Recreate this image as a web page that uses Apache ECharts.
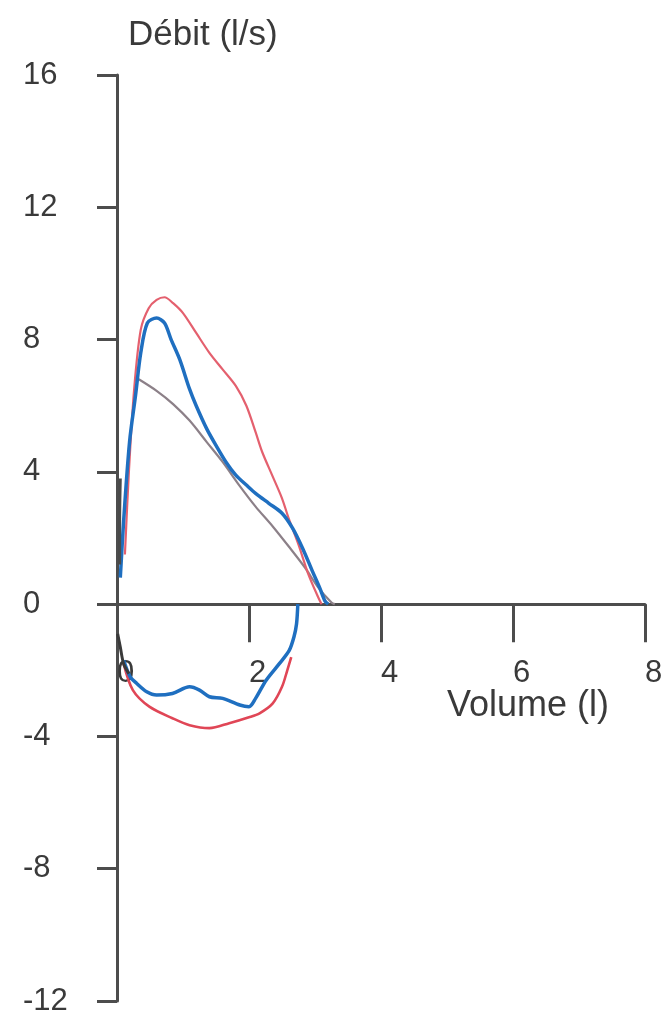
<!DOCTYPE html>
<html>
<head>
<meta charset="utf-8">
<script src="https://cdn.jsdelivr.net/npm/echarts@6/dist/echarts.min.js"></script>
<style>
html,body{margin:0;padding:0;background:#fff;}
#chart{width:666px;height:1017px;}
</style>
</head>
<body>
<div id="chart"></div>
<script>
// Tick values
const xTicks = [0, 2, 4, 6, 8];
const yTicks = [-12, -8, -4, 0, 4, 8, 12, 16];

// Curves: [volume (l), flow (l/s)]
const redExp = [[0.12,1.5],[0.18,4.0],[0.26,6.5],[0.36,8.3],[0.48,8.95],[0.6,9.2],[0.72,9.28],[0.85,9.1],[1.0,8.8],[1.2,8.2],[1.4,7.6],[1.6,7.1],[1.8,6.6],[1.96,6.0],[2.1,5.2],[2.2,4.6],[2.35,3.9],[2.5,3.2],[2.6,2.6],[2.75,1.8],[2.9,0.9],[3.05,0.2],[3.1,0]];
const redInsp = [[0.1,-1.8],[0.24,-2.6],[0.49,-3.1],[0.84,-3.45],[1.1,-3.66],[1.4,-3.75],[1.7,-3.6],[2.0,-3.42],[2.16,-3.3],[2.36,-3.0],[2.5,-2.5],[2.58,-2.0],[2.64,-1.6]];
const blueExp = [[0.05,0.8],[0.1,2.5],[0.19,4.9],[0.28,6.3],[0.36,7.6],[0.46,8.5],[0.6,8.65],[0.72,8.5],[0.82,8.0],[0.95,7.4],[1.1,6.5],[1.2,6.0],[1.36,5.3],[1.5,4.8],[1.65,4.3],[1.8,3.9],[1.96,3.6],[2.1,3.35],[2.3,3.05],[2.5,2.75],[2.66,2.3],[2.81,1.7],[2.96,1.0],[3.07,0.5],[3.15,0.1],[3.2,0]];
const blueInsp = [[0.1,-1.7],[0.2,-2.2],[0.3,-2.4],[0.45,-2.65],[0.6,-2.75],[0.84,-2.7],[1.1,-2.5],[1.25,-2.6],[1.4,-2.8],[1.6,-2.85],[1.86,-3.05],[2.0,-3.1],[2.1,-2.85],[2.26,-2.3],[2.46,-1.8],[2.61,-1.4],[2.68,-1.0],[2.72,-0.6],[2.74,0]];
const grayPred = [[0.33,6.8],[0.6,6.45],[0.85,6.05],[1.1,5.55],[1.36,4.9],[1.6,4.3],[1.85,3.6],[2.1,2.95],[2.36,2.35],[2.6,1.75],[2.85,1.1],[3.05,0.5],[3.25,0.05],[3.3,0]];
const darkExp = [[0.04,1.2],[0.04,2.5],[0.05,3.8]];
const darkInsp = [[0.01,-0.9],[0.05,-1.3],[0.1,-1.8],[0.18,-2.1]];

const chart = echarts.init(document.getElementById('chart'));
const axisColor = '#4d4d4d';
const labelFont = 'Liberation Sans, Arial, sans-serif';

function line(data, color, width, z) {
  return {type:'line', data:data, showSymbol:false, smooth:0.3, z:z||2,
    lineStyle:{color:color, width:width}, animation:false};
}

chart.setOption({
  animation:false,
  backgroundColor:'#ffffff',
  grid:{left:117, right:21, top:75, bottom:16, containLabel:false, outerBoundsMode:'none'},
  xAxis:{
    type:'value', min:xTicks[0], max:xTicks[xTicks.length-1], interval:2,
    axisLine:{show:true, onZero:true, lineStyle:{color:axisColor, width:3}},
    axisTick:{show:true, length:38, lineStyle:{color:axisColor, width:3}},
    splitLine:{show:false},
    axisLabel:{align:'left', margin:-343, fontSize:31, color:'#3a3a3a', fontFamily:labelFont,
      showMinLabel:true, showMaxLabel:true, hideOverlap:false}
  },
  yAxis:{
    type:'value', min:yTicks[0], max:yTicks[yTicks.length-1], interval:4,
    axisLine:{show:true, onZero:false, lineStyle:{color:axisColor, width:3}},
    axisTick:{show:true, length:20, lineStyle:{color:axisColor, width:3}},
    splitLine:{show:false},
    axisLabel:{align:'left', margin:94, fontSize:31, color:'#3a3a3a', fontFamily:labelFont}
  },
  graphic:[
    {type:'text', left:128, top:18, style:{text:'Débit (l/s)', font:'35px Liberation Sans, Arial, sans-serif', fill:'#3a3a3a'}},
    {type:'text', left:447, top:688, style:{text:'Volume (l)', font:'36px Liberation Sans, Arial, sans-serif', fill:'#3a3a3a'}}
  ],
  series:[
    line(grayPred, '#8c8088', 2.2, 2),
    line(redExp, '#e4606e', 2.2, 3),
    line(redInsp, '#e04656', 2.6, 3),
    line(blueExp, '#1f6fc0', 3.5, 4),
    line(blueInsp, '#1f6fc0', 3.5, 4),
    line(darkExp, '#4a4a4a', 3, 5),
    line(darkInsp, '#3a3a3a', 3, 5)
  ]
});
</script>
</body>
</html>
